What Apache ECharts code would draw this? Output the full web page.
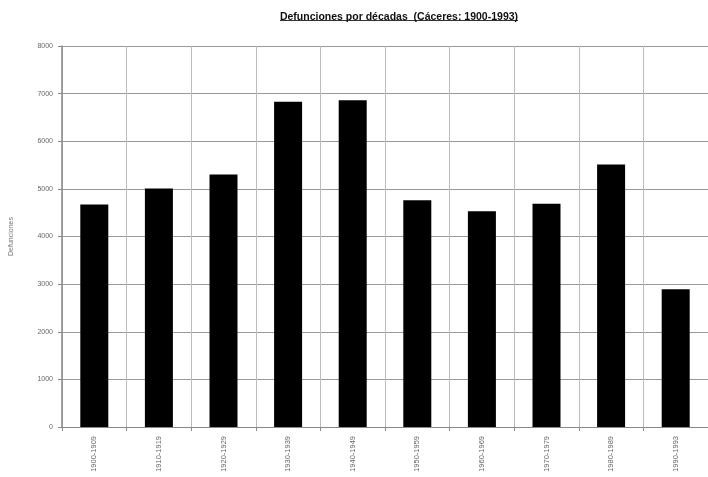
<!DOCTYPE html>
<html><head><meta charset="utf-8">
<script src="https://cdn.jsdelivr.net/npm/echarts@6/dist/echarts.min.js"></script>
<style>html,body{margin:0;padding:0;background:#fff}#c{width:708px;height:477px}</style>
</head><body><div id="c"></div>
<script>
const categories = ["1900-1909","1910-1919","1920-1929","1930-1939","1940-1949","1950-1959","1960-1969","1970-1979","1980-1989","1990-1993"];
const defunciones = [4670, 5010, 5300, 6830, 6860, 4760, 4530, 4690, 5510, 2890];
const yTicks = [0, 1000, 2000, 3000, 4000, 5000, 6000, 7000, 8000];
const titleText = "Defunciones por décadas  (Cáceres: 1900-1993)";
const yName = "Defunciones";

const chart = echarts.init(document.getElementById('c'), null, {renderer:'canvas'});
chart.setOption({
  animation:false,
  backgroundColor:'#fff',
  title:{text:titleText, left:394, top:7, textAlign:'center',
    textStyle:{fontFamily:'Liberation Sans', fontSize:10.5, fontWeight:'bold', color:'#111'}},
  graphic:[{type:'line', shape:{x1:280,y1:20.5,x2:518,y2:20.5}, style:{stroke:'#333', lineWidth:1}}],
  grid:{left:59.5, width:652, top:46, bottom:50, containLabel:false},
  xAxis:{type:'category', data:categories,
    axisLine:{lineStyle:{color:'#888', width:1}},
    axisTick:{show:true, interval:0, length:4, lineStyle:{color:'#888'}},
    splitLine:{show:true, interval:0, lineStyle:{color:'#bbb', width:1}},
    axisLabel:{rotate:90, interval:0, margin:9, fontSize:7.5, color:'#666', fontFamily:'Liberation Sans'}},
  yAxis:{type:'value', min:yTicks[0], max:yTicks[yTicks.length-1], interval:yTicks[1]-yTicks[0],
    name:yName, nameLocation:'middle', nameRotate:90, nameGap:47,
    nameTextStyle:{fontSize:7, color:'#777', fontFamily:'Liberation Sans'},
    axisLine:{show:true, lineStyle:{color:'#888', width:1.5}},
    axisTick:{show:true, length:4, lineStyle:{color:'#888'}},
    splitLine:{show:true, lineStyle:{color:'#999', width:1}},
    axisLabel:{fontSize:7, color:'#666', margin:9, fontFamily:'Liberation Sans', formatter: v => String(v)}},
  series:[{type:'bar', data:defunciones, barWidth:28,
    itemStyle:{color:'#000'}}]
});
</script></body></html>
